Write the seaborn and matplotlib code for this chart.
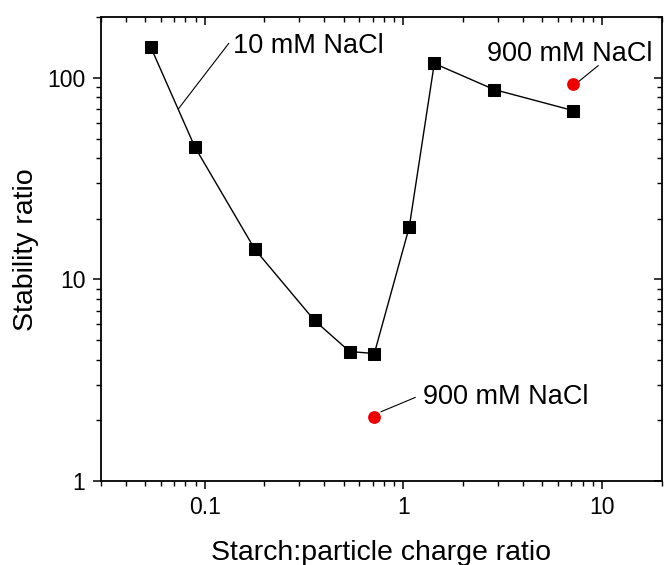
import numpy as np
import pandas as pd
import matplotlib
matplotlib.use("Agg")
import matplotlib.pyplot as plt
import matplotlib.ticker as mticker
import seaborn as sns

# Data
charge_ratio_10mM = [0.0536, 0.0893, 0.179, 0.357, 0.536, 0.714, 1.07, 1.43, 2.86, 7.14]
stability_10mM = [142, 45.4, 14.1, 6.26, 4.39, 4.29, 18.2, 118, 87.6, 68.9]
charge_ratio_900mM = [0.714, 7.14]
stability_900mM = [2.08, 92.8]

x_label = "Starch:particle charge ratio"
y_label = "Stability ratio"
label_10mM = "10 mM NaCl"
label_900mM = "900 mM NaCl"

sns.set_style("ticks")
plt.rcParams["font.family"] = ["Liberation Sans", "DejaVu Sans"]
plt.rcParams["text.color"] = "black"
plt.rcParams["axes.labelcolor"] = "black"
plt.rcParams["xtick.color"] = "black"
plt.rcParams["ytick.color"] = "black"
plt.rcParams["axes.edgecolor"] = "black"

fig = plt.figure(figsize=(6.64, 5.65), dpi=100)
ax = fig.add_axes([0.1517, 0.1487, 0.997 - 0.1517, 0.9694 - 0.1487])

df10 = pd.DataFrame({"x": charge_ratio_10mM, "y": stability_10mM})
df900 = pd.DataFrame({"x": charge_ratio_900mM, "y": stability_900mM})

sns.lineplot(data=df10, x="x", y="y", ax=ax, color="black", linewidth=1.0,
             marker="s", markersize=8.5, markeredgecolor="black", sort=False,
             zorder=3)
sns.scatterplot(data=df900, x="x", y="y", ax=ax, color="#ee0000", s=85,
                edgecolor="#ee0000", linewidth=0, zorder=4)

ax.set_xscale("log")
ax.set_yscale("log")
ax.set_xlim(0.03, 20)
ax.set_ylim(1, 200)

ax.xaxis.set_major_locator(mticker.FixedLocator([0.1, 1, 10]))
ax.xaxis.set_major_formatter(mticker.FixedFormatter(["0.1", "1", "10"]))
ax.yaxis.set_major_locator(mticker.FixedLocator([1, 10, 100]))
ax.yaxis.set_major_formatter(mticker.FixedFormatter(["1", "10", "100"]))
ax.xaxis.set_minor_locator(mticker.LogLocator(base=10, subs=np.arange(2, 10), numticks=20))
ax.yaxis.set_minor_locator(mticker.LogLocator(base=10, subs=np.arange(2, 10), numticks=20))
ax.xaxis.set_minor_formatter(mticker.NullFormatter())
ax.yaxis.set_minor_formatter(mticker.NullFormatter())

ax.tick_params(which="major", direction="out", length=6, width=1.1, labelsize=16.5,
               pad=5, colors="black")
ax.tick_params(which="minor", direction="out", length=3.5, width=1.0)
for s in ax.spines.values():
    s.set_linewidth(1.3)
    s.set_color("black")
    s.set_visible(True)

ax.set_xlabel(x_label, fontsize=20.5, labelpad=15, color="black")
ax.set_ylabel(y_label, fontsize=20.5, labelpad=6, color="black")

# inward ticks on top and right
axt = ax.twiny()
axt.set_xscale("log")
axt.set_xlim(ax.get_xlim())
axt.xaxis.set_major_locator(mticker.FixedLocator([0.1, 1, 10]))
axt.xaxis.set_minor_locator(mticker.LogLocator(base=10, subs=np.arange(2, 10), numticks=20))
axt.tick_params(which="major", direction="in", length=6, width=1.1, labeltop=False)
axt.tick_params(which="minor", direction="in", length=3.5, width=1.0, labeltop=False)
axr = ax.twinx()
axr.set_yscale("log")
axr.set_ylim(ax.get_ylim())
axr.yaxis.set_major_locator(mticker.FixedLocator([1, 10, 100]))
axr.yaxis.set_minor_locator(mticker.LogLocator(base=10, subs=np.arange(2, 10), numticks=20))
axr.tick_params(which="major", direction="in", length=6, width=1.1, labelright=False)
axr.tick_params(which="minor", direction="in", length=3.5, width=1.0, labelright=False)
for a in (axt, axr):
    for s in a.spines.values():
        s.set_visible(False)

# annotations
lp = dict(arrowstyle="-", color="black", lw=0.8, shrinkA=0, shrinkB=0)
ax.annotate("", xy=(0.0738, 70.3), xytext=(0.1323, 148.6), arrowprops=lp)
ax.text(0.1386, 144.7, label_10mM, fontsize=19.5, ha="left", va="center", color="black")
ax.annotate("", xy=(7.65, 96.3), xytext=(9.56, 115.2), arrowprops=lp)
ax.text(2.626, 132.1, label_900mM, fontsize=19.5, ha="left", va="center", color="black")
ax.annotate("", xy=(0.7704, 2.205), xytext=(1.148, 2.598), arrowprops=lp)
ax.text(1.255, 2.608, label_900mM, fontsize=19.5, ha="left", va="center", color="black")

fig.savefig("out.png", dpi=100)
